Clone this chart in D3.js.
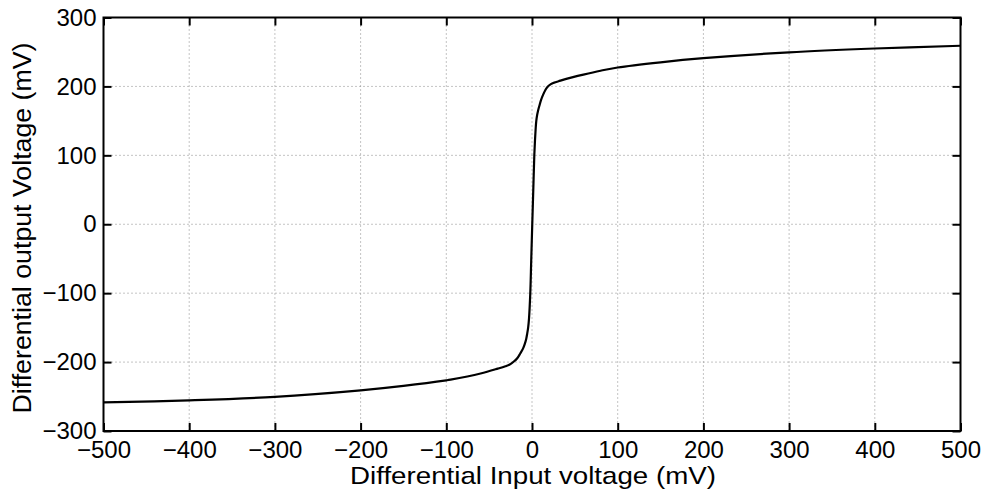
<!DOCTYPE html>
<html>
<head>
<meta charset="utf-8">
<script src="https://cdn.jsdelivr.net/npm/d3@7"></script>
<style>
  body { margin: 0; background: #fff; }
  svg { display: block; font-family: "Liberation Sans", Arial, Helvetica, sans-serif; }
</style>
</head>
<body>
<svg id="chart" width="986" height="491"></svg>
<script>
// transfer curve (mV)
var vin  = [-500,-400,-300,-200,-150,-100,-95,-60,-40,-31,-26,-21.5,-17,-13.7,-10.5,-8.5,-6.7,-5.5,-4.5,-3.5,-2,-0.9,
            0.3,1.5,2.7,3.5,4.2,5,6,7,8.5,10.5,13,15.5,18,22,26,31,40,60,80,100,150,200,300,400,500];
var vout = [-258.5,-255.5,-250.5,-241,-234.5,-226.5,-225.5,-216.5,-209.5,-206,-203.5,-199.5,-194,-187.5,-180.5,-174,-166,-158,-150,-137,-100,-52,
            0,50,100,122,137,150,158.5,164.5,171.5,180,188,194.5,199.3,203.3,205.5,207.5,211,217.2,222.8,227.5,235,241,249.5,255,259];
var xTicks = [-500,-400,-300,-200,-100,0,100,200,300,400,500];
var yTicks = [-300,-200,-100,0,100,200,300];

var margin = {left:103.5, top:17.5, right:986-960.5, bottom:491-431};
var svg = d3.select('#chart');
var W = 986 - margin.left - margin.right,
    H = 491 - margin.top - margin.bottom;

var x = d3.scaleLinear().domain([-500,500]).range([0,W]);
var y = d3.scaleLinear().domain([-300,300]).range([H,0]);

var g = svg.append('g').attr('transform','translate('+margin.left+','+margin.top+')');

// grid
g.append('g').selectAll('line').data(xTicks.slice(1,-1)).enter().append('line')
  .attr('x1',d=>x(d)).attr('x2',d=>x(d)).attr('y1',0).attr('y2',H)
  .attr('stroke','#888').attr('stroke-width',1).attr('stroke-dasharray','1,3');
g.append('g').selectAll('line').data(yTicks.slice(1,-1)).enter().append('line')
  .attr('y1',d=>y(d)).attr('y2',d=>y(d)).attr('x1',0).attr('x2',W)
  .attr('stroke','#888').attr('stroke-width',1).attr('stroke-dasharray','1,3');

// curve
var line = d3.line().x((d,i)=>x(vin[i])).y((d,i)=>y(vout[i])).curve(d3.curveCatmullRom.alpha(0.5));
g.append('path').datum(vin).attr('d',line)
  .attr('fill','none').attr('stroke','#000').attr('stroke-width',2.2)
  .attr('stroke-linejoin','round');

// axes, MATLAB style: inward ticks on all sides
var tl = -8;
var fmt = d => d3.format('d')(d).replace('-','\u2212');
var styleAxis = function(sel){
  sel.select('.domain').remove();
  sel.selectAll('.tick line').attr('stroke','#000').attr('stroke-width',2);
  sel.selectAll('.tick text').attr('fill','#000').style('font-size','24px');
};
g.append('g').attr('transform','translate(0,'+H+')')
  .call(d3.axisBottom(x).tickValues(xTicks).tickSize(tl).tickPadding(10).tickFormat(fmt))
  .call(styleAxis);
g.append('g')
  .call(d3.axisTop(x).tickValues(xTicks).tickSize(tl).tickFormat(''))
  .call(styleAxis);
g.append('g')
  .call(d3.axisLeft(y).tickValues(yTicks).tickSize(tl).tickPadding(7).tickFormat(fmt))
  .call(styleAxis);
g.append('g').attr('transform','translate('+W+',0)')
  .call(d3.axisRight(y).tickValues(yTicks).tickSize(tl).tickFormat(''))
  .call(styleAxis);

g.append('rect').attr('width',W).attr('height',H)
  .attr('fill','none').attr('stroke','#000').attr('stroke-width',2);

svg.append('text')
  .attr('transform','translate(533,484) scale(1.155,1)')
  .attr('text-anchor','middle').style('font-size','24px')
  .text('Differential Input voltage (mV)');

svg.append('text')
  .attr('transform','translate(31,228) rotate(-90) scale(1.07,1)')
  .attr('text-anchor','middle').style('font-size','25px')
  .text('Differential output Voltage (mV)');
</script>
</body>
</html>
